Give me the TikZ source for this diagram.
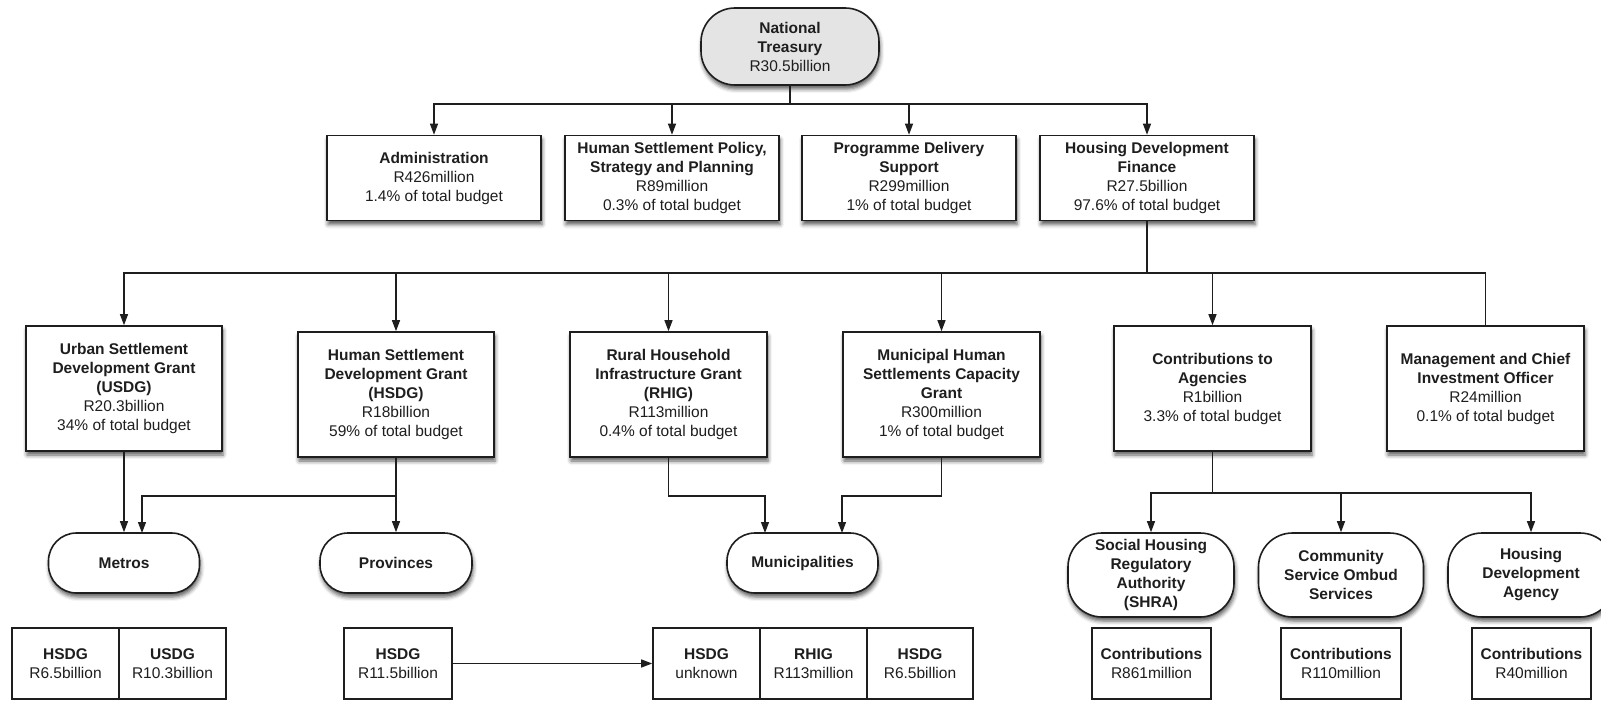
\documentclass[tikz,border=0pt]{standalone}
\usepackage{fontspec}
\setmainfont{Liberation Sans}
\usetikzlibrary{arrows.meta,shadows.blur}
\newcommand\fsz{\fontsize{15.5}{19}\selectfont}
\definecolor{ink}{HTML}{1E1E1E}
\definecolor{ntfill}{HTML}{E4E4E4}
\tikzset{
  shd/.style={blur shadow={shadow xshift=1pt,shadow yshift=-4pt,shadow blur radius=4pt,shadow opacity=65}},
  box/.style={draw=ink,line width=1.6pt,fill=white,rectangle,align=center,inner sep=0pt,font=\fsz,text=ink,shd},
  cell/.style={draw=ink,line width=1.6pt,fill=white,rectangle,align=center,inner sep=0pt,font=\fsz,text=ink},
  pill/.style={box,rounded corners=#1},
  conn/.style={draw=ink,line width=1.2pt},
  arr/.style={conn,-{Triangle[length=11pt,width=8pt]}}
}
\begin{document}
\begin{tikzpicture}[x=1pt,y=-1pt]
\useasboundingbox (0,0) rectangle (1601,703);
% level 0
\node[pill=34pt,fill=ntfill,minimum width=178pt,minimum height=77pt] (nt) at (790,46.5) {\textbf{National}\\\textbf{Treasury}\\R30.5billion};
% level 1
\node[box,minimum width=214pt,minimum height=85pt] (adm) at (434,178) {\textbf{Administration}\\R426million\\1.4\% of total budget};
\node[box,minimum width=214pt,minimum height=85pt] (hsp) at (672,178) {\textbf{Human Settlement Policy,}\\\textbf{Strategy and Planning}\\R89million\\0.3\% of total budget};
\node[box,minimum width=214pt,minimum height=85pt] (pds) at (909,178) {\textbf{Programme Delivery}\\\textbf{Support}\\R299million\\1\% of total budget};
\node[box,minimum width=214pt,minimum height=85pt] (hdf) at (1147,178) {\textbf{Housing Development}\\\textbf{Finance}\\R27.5billion\\97.6\% of total budget};
% level 2
\node[box,minimum width=196pt,minimum height=125pt] (usdg) at (124,388.5) {\textbf{Urban Settlement}\\\textbf{Development Grant}\\\textbf{(USDG)}\\R20.3billion\\34\% of total budget};
\node[box,minimum width=196pt,minimum height=125pt] (hsdg) at (396,394.5) {\textbf{Human Settlement}\\\textbf{Development Grant}\\\textbf{(HSDG)}\\R18billion\\59\% of total budget};
\node[box,minimum width=197pt,minimum height=125pt] (rhig) at (668.5,394.5) {\textbf{Rural Household}\\\textbf{Infrastructure Grant}\\\textbf{(RHIG)}\\R113million\\0.4\% of total budget};
\node[box,minimum width=197pt,minimum height=125pt] (mhs) at (941.5,394.5) {\textbf{Municipal Human}\\\textbf{Settlements Capacity}\\\textbf{Grant}\\R300million\\1\% of total budget};
\node[box,minimum width=197pt,minimum height=125pt] (cta) at (1212.5,388.5) {\textbf{Contributions to}\\\textbf{Agencies}\\R1billion\\3.3\% of total budget};
\node[box,minimum width=197pt,minimum height=125pt] (mgmt) at (1485.5,388.5) {\textbf{Management and Chief}\\\textbf{Investment Officer}\\R24million\\0.1\% of total budget};
% level 3
\node[pill=28pt,minimum width=151pt,minimum height=60pt] (metros) at (124,563) {\textbf{Metros}};
\node[pill=28pt,minimum width=152pt,minimum height=60pt] (prov) at (396,563) {\textbf{Provinces}};
\node[pill=28pt,minimum width=151pt,minimum height=60pt] (muni) at (802.5,563) {\textbf{Municipalities}};
\node[pill=34pt,minimum width=166pt,minimum height=84pt] (shra) at (1151,575) {\textbf{Social Housing}\\\textbf{Regulatory}\\\textbf{Authority}\\\textbf{(SHRA)}};
\node[pill=34pt,minimum width=165pt,minimum height=84pt] (csos) at (1341,575) {\textbf{Community}\\\textbf{Service Ombud}\\\textbf{Services}};
\node[pill=34pt,minimum width=166pt,minimum height=84pt] (hda) at (1531,575) {\textbf{Housing}\\\textbf{Development}\\\textbf{Agency}};
% level 4
\node[cell,minimum width=107pt,minimum height=71pt] (mb1) at (65.5,663.5) {\textbf{HSDG}\\R6.5billion};
\node[cell,minimum width=107pt,minimum height=71pt] (mb2) at (172.5,663.5) {\textbf{USDG}\\R10.3billion};
\node[cell,minimum width=108pt,minimum height=71pt] (pb) at (398,663.5) {\textbf{HSDG}\\R11.5billion};
\node[cell,minimum width=107pt,minimum height=71pt] (tb1) at (706.5,663.5) {\textbf{HSDG}\\unknown};
\node[cell,minimum width=107pt,minimum height=71pt] (tb2) at (813.5,663.5) {\textbf{RHIG}\\R113million};
\node[cell,minimum width=106pt,minimum height=71pt] (tb3) at (920,663.5) {\textbf{HSDG}\\R6.5billion};
\node[cell,minimum width=119pt,minimum height=71pt] (c1) at (1151.5,663.5) {\textbf{Contributions}\\R861million};
\node[cell,minimum width=120pt,minimum height=71pt] (c2) at (1341,663.5) {\textbf{Contributions}\\R110million};
\node[cell,minimum width=119pt,minimum height=71pt] (c3) at (1531.5,663.5) {\textbf{Contributions}\\R40million};
% junctions
\coordinate (j0) at (790,104);
\coordinate (j1) at (1147,273);
\coordinate (j2) at (396,496);
\coordinate (j3) at (1212.5,493);
\coordinate (mtin) at (142,533);
\coordinate (mu1) at (765,533);
\coordinate (mu2) at (842,533);
% connectors
\draw[conn] (nt.south) -- (j0);
\draw[arr] (j0) -| (adm.north);
\draw[arr] (j0) -| (hsp.north);
\draw[arr] (j0) -| (pds.north);
\draw[arr] (j0) -| (hdf.north);
\draw[conn] (hdf.south) -- (j1);
\draw[arr] (j1) -| (usdg.north);
\draw[arr] (j1) -| (hsdg.north);
\draw[arr] (j1) -| (rhig.north);
\draw[arr] (j1) -| (mhs.north);
\draw[arr] (j1) -| (cta.north);
\draw[conn] (j1) -| (mgmt.north);
\draw[arr] (usdg.south) -- (metros.north);
\draw[conn] (hsdg.south) -- (j2);
\draw[arr] (j2) -- (prov.north);
\draw[arr] (j2) -| (mtin);
\draw[arr] (rhig.south) |- (j2 -| mu1) -- (mu1);
\draw[arr] (mhs.south) |- (j2 -| mu2) -- (mu2);
\draw[conn] (cta.south) -- (j3);
\draw[arr] (j3) -| (shra.north);
\draw[arr] (j3) -| (csos.north);
\draw[arr] (j3) -| (hda.north);
\draw[arr] (pb.east) -- (tb1.west);
\end{tikzpicture}
\end{document}
